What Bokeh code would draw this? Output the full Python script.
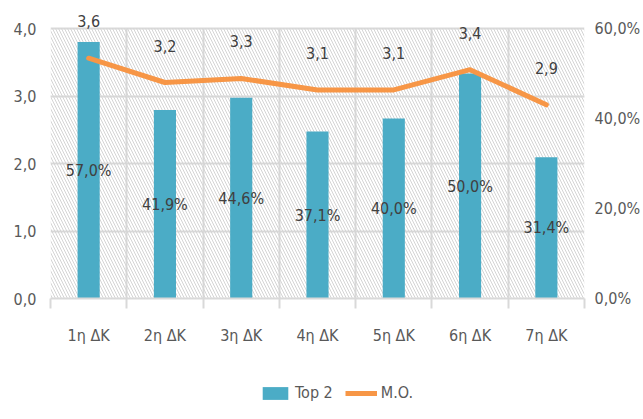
from bokeh.plotting import figure
from bokeh.layouts import column
from bokeh.models import (Range1d, LinearAxis, FixedTicker, ColumnDataSource,
                          BoxAnnotation, Legend, LegendItem)
from bokeh.core.properties import value
from bokeh.embed import file_html
from bokeh.resources import INLINE

categories = ["1η ΔK", "2η ΔK", "3η ΔK", "4η ΔK", "5η ΔK", "6η ΔK", "7η ΔK"]
top2 = [57.0, 41.9, 44.6, 37.1, 40.0, 50.0, 31.4]
mo = [3.56, 3.20, 3.26, 3.09, 3.09, 3.39, 2.87]
left_ticks = [0, 1, 2, 3, 4]
left_labels = ["0,0", "1,0", "2,0", "3,0", "4,0"]
right_ticks = [0, 20, 40, 60]
right_labels = ["0,0%", "20,0%", "40,0%", "60,0%"]
series_names = ["Top 2", "M.O."]

FONT = "DejaVu Sans Condensed"
FS = "16px"
BAR = "#4BACC6"
LINE = "#F79646"
GRID = "#D9D9D9"
TXT = "#595959"

n = len(categories)
centers = [i + 0.5 for i in range(n)]
bounds = [i for i in range(n + 1)]
left_max = left_ticks[-1]
right_max = right_ticks[-1]
headroom = 290 / 270  # extra room above the plot area for the value labels

p = figure(width=643, height=350, output_backend="svg", toolbar_location=None,
           x_range=Range1d(0, n), y_range=Range1d(0, left_max * headroom),
           min_border_left=50, min_border_right=57, min_border_top=8,
           min_border_bottom=52)
p.extra_y_ranges = {"pct": Range1d(0, right_max * headroom)}
p.background_fill_color = "white"
p.border_fill_color = "white"
p.outline_line_color = None

hatch = BoxAnnotation(top=left_max, fill_color=None, line_color=None,
                      hatch_pattern="left_diagonal_line", hatch_color="#D4D4D4",
                      hatch_scale=6, hatch_weight=1, level="underlay")
p.add_layout(hatch)

p.ygrid.ticker = FixedTicker(ticks=left_ticks)
p.ygrid.grid_line_color = GRID
p.ygrid.grid_line_width = 2
p.xgrid.ticker = FixedTicker(ticks=bounds)
p.xgrid.grid_line_color = GRID
p.xgrid.grid_line_width = 2
p.xgrid.cross_bounds = (0, left_max)

xa = p.xaxis[0]
xa.ticker = FixedTicker(ticks=centers, minor_ticks=bounds)
xa.major_label_overrides = {c: lab for c, lab in zip(centers, categories)}
xa.major_tick_line_color = None
xa.major_tick_out = 0
xa.minor_tick_in = 0
xa.minor_tick_out = 10
xa.minor_tick_line_color = GRID
xa.minor_tick_line_width = 2
xa.axis_line_color = GRID
xa.axis_line_width = 2
xa.major_label_standoff = 17
xa.major_label_text_font = FONT
xa.major_label_text_font_size = FS
xa.major_label_text_color = TXT

ya = p.yaxis[0]
ya.ticker = FixedTicker(ticks=left_ticks)
ya.major_label_overrides = {t: lab for t, lab in zip(left_ticks, left_labels)}
ya.axis_line_color = None
ya.major_tick_line_color = None
ya.minor_tick_line_color = None
ya.major_tick_out = 0
ya.major_label_standoff = 14
ya.major_label_text_font = FONT
ya.major_label_text_font_size = FS
ya.major_label_text_color = TXT

ra = LinearAxis(y_range_name="pct", ticker=FixedTicker(ticks=right_ticks))
ra.major_label_overrides = {t: lab for t, lab in zip(right_ticks, right_labels)}
ra.axis_line_color = None
ra.major_tick_line_color = None
ra.minor_tick_line_color = None
ra.major_tick_out = 0
ra.major_label_standoff = 10
ra.major_label_text_font = FONT
ra.major_label_text_font_size = FS
ra.major_label_text_color = TXT
p.add_layout(ra, "right")

src = ColumnDataSource(dict(
    x=centers, top2=top2, mid=[v / 2 for v in top2], mo=mo,
    top2_lab=[f"{v:.1f}%".replace(".", ",") for v in top2],
    mo_lab=[f"{v:.1f}".replace(".", ",") for v in mo],
))

p.vbar(x="x", top="top2", width=0.29, bottom=0, source=src,
       fill_color=BAR, line_color=None, y_range_name="pct")
p.line(x="x", y="mo", source=src, line_color=LINE, line_width=5,
       line_join="round", line_cap="round")

p.text(x="x", y="mid", text="top2_lab", source=src, y_range_name="pct",
       text_align="center", text_baseline="middle", text_font=value(FONT),
       text_font_size=FS, text_color="#404040")
p.text(x="x", y="mo", text="mo_lab", source=src, y_offset=-37,
       text_align="center", text_baseline="middle", text_font=value(FONT),
       text_font_size=FS, text_color="#404040")

# legend strip below the chart (its glyph renderers share the data but lie outside its view)
q = figure(width=643, height=69, output_backend="svg", toolbar_location=None,
           x_range=Range1d(100, 101), y_range=Range1d(100, 101),
           min_border_left=0, min_border_right=0, min_border_top=0,
           min_border_bottom=0)
q.axis.visible = False
q.grid.visible = False
q.outline_line_color = None
q.background_fill_color = "white"
q.border_fill_color = "white"
lb = q.vbar(x="x", top="top2", width=0.29, source=src, fill_color=BAR, line_color=None)
ll = q.line(x="x", y="mo", source=src, line_color=LINE, line_width=5)

legend = Legend(items=[LegendItem(label=series_names[0], renderers=[lb]),
                       LegendItem(label=series_names[1], renderers=[ll])],
                orientation="horizontal", location=(209, 17),
                glyph_width=32, glyph_height=16, label_height=16,
                label_standoff=4, spacing=12, padding=0, margin=0,
                border_line_color=None, background_fill_alpha=0,
                label_text_font=FONT, label_text_font_size=FS,
                label_text_color=TXT)
q.add_layout(legend, "center")

open("out.html", "w").write(file_html(column(p, q, spacing=0), INLINE))
